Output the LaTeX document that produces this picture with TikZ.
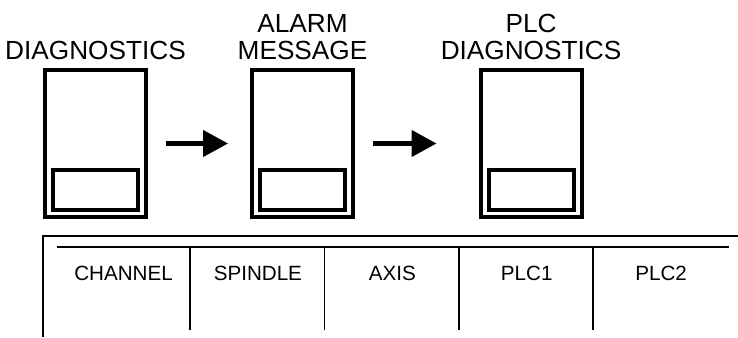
\documentclass[tikz,border=0pt]{standalone}
\usepackage{fontspec}
\setmainfont{Liberation Sans}
\usetikzlibrary{positioning}
\usetikzlibrary{arrows.meta}

\begin{document}
\begin{tikzpicture}[x=1pt,y=-1pt,>={Triangle[length=25pt,width=26pt]},
  panel/.style={draw,line width=4pt,minimum width=101pt,minimum height=147pt,inner sep=0pt},
  window/.style={draw,line width=4pt,minimum width=85pt,minimum height=40pt,inner sep=0pt},
  title/.style={font=\fontsize{26.2}{27.5}\selectfont,align=center,inner sep=0pt},
  tab/.style={font=\fontsize{20.6}{22}\selectfont,inner sep=0pt}]
\useasboundingbox (0,0) rectangle (738,337);
\node[panel] at (95.5,143.5) (diag) {};
\node[panel] at (302.5,143.5) (alarm) {};
\node[panel] at (531,143.5) (plc) {};
\node[window,above=7pt of diag.south] (diagwin) {};
\node[window,above=7pt of alarm.south] (alarmwin) {};
\node[window,above=7pt of plc.south] (plcwin) {};
\node[title,above=8pt of diag] (diagtitle) {DIAGNOSTICS};
\node[title,above=8pt of alarm] (alarmtitle) {ALARM\\MESSAGE};
\node[title,above=8pt of plc] (plctitle) {PLC\\DIAGNOSTICS};
\draw[->, line width=4.5pt, shorten <=18pt, shorten >=22pt] (diag) -- (alarm);
\draw[->, line width=4.5pt, shorten <=18pt, shorten >=42pt] (alarm) -- (plc);
% menu bar
\draw[line width=1.3pt] (738,236) -- (43,236) -- (43,337);
\draw[line width=2pt] (57,247) -- (729,247);
\foreach \name [count=\i] in {CHANNEL,SPINDLE,AXIS,PLC1,PLC2}
  \node[tab] at ({123.5+134.4*(\i-1)},273) (tab\i) {\name};
\foreach \k in {1,...,4}
  \draw[line width=1.5pt] ({190+134.4*(\k-1)},248) -- ++(0,82);
\end{tikzpicture}
\end{document}
